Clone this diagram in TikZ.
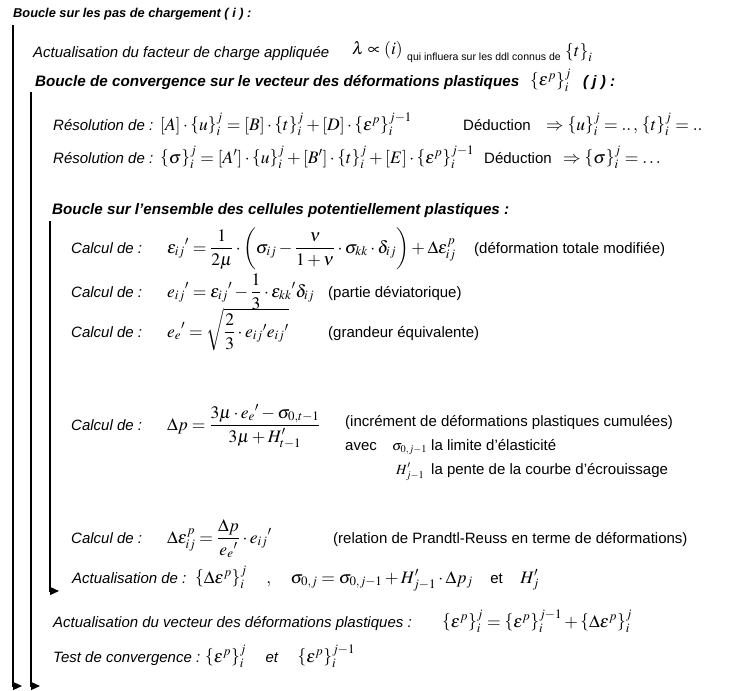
\documentclass[tikz,border=0pt]{standalone}
\usepackage{mathptmx}
\usepackage{fontspec}
\setmainfont{Liberation Sans}
\usetikzlibrary{arrows.meta}
\begin{document}
\begin{tikzpicture}[x=1pt,y=-1pt,
  ttl/.style={anchor=base west,inner sep=0pt,font=\fontsize{12.8}{15}\selectfont\bfseries\itshape},
  head/.style={anchor=base west,inner sep=0pt,font=\fontsize{15.2}{18}\selectfont\bfseries\itshape},
  lab/.style={anchor=base west,inner sep=0pt,font=\fontsize{15}{18}\selectfont\itshape},
  txt/.style={anchor=base west,inner sep=0pt,font=\fontsize{15}{18}\selectfont},
  smalltxt/.style={anchor=base west,inner sep=0pt,font=\fontsize{10.5}{12}\selectfont},
  mth/.style={anchor=base west,inner sep=0pt,font=\fontsize{17.5}{21}\selectfont},
  smallmth/.style={anchor=base west,inner sep=0pt,font=\fontsize{14}{17}\selectfont},
  loopline/.style={line width=1.2pt,-{Triangle[length=9pt,width=8pt]}}]
\useasboundingbox[fill=white] (0,0) rectangle (735,690);
% loop 1
\node[ttl] (h1) at (13,18) {Boucle sur les pas de chargement ( i ) :};
\node[lab] (act1) at (33,58) {Actualisation du facteur de charge appliquée};
\node[mth] (lam) at (352,55) {$\lambda\propto\left(i\right)$};
\node[smalltxt] (qui) at (407,61) {qui influera sur les ddl connus de};
\node[mth] (t1) at (565,57) {$\left\{t\right\}_i$};
% loop 2
\node[head] (h2) at (35,87) {Boucle de convergence sur le vecteur des déformations plastiques};
\node[mth] (ep1) at (530,86) {$\left\{\varepsilon^p\right\}_i^j$};
\node[head] (jj) at (583,87) {( j ) :};
\node[lab] (res1) at (53,130) {Résolution de :};
\node[mth] (f1) at (160,130) {$\left[A\right]\cdot\left\{u\right\}_i^j=\left[B\right]\cdot\left\{t\right\}_i^j+\left[D\right]\cdot\left\{\varepsilon^p\right\}_i^{j-1}$};
\node[txt] (d1) at (463,130) {Déduction};
\node[mth] (g1) at (546,130) {$\Rightarrow\left\{u\right\}_i^j=..\,,\,\left\{t\right\}_i^j=..$};
\node[lab] (res2) at (53,163) {Résolution de :};
\node[mth] (f2) at (160,163) {$\left\{\sigma\right\}_i^j=\left[A'\right]\cdot\left\{u\right\}_i^j+\left[B'\right]\cdot\left\{t\right\}_i^j+\left[E\right]\cdot\left\{\varepsilon^p\right\}_i^{j-1}$};
\node[txt] (d2) at (484,163) {Déduction};
\node[mth] (g2) at (563,163) {$\Rightarrow\left\{\sigma\right\}_i^j=\dots$};
% loop 3
\node[head] (h3) at (52,214) {Boucle sur l'ensemble des cellules potentiellement plastiques :};
\node[lab] (c1) at (71,253) {Calcul de :};
\node[mth] (e1) at (167,253) {$\displaystyle\varepsilon_{ij}{}'=\frac{1}{2\mu}\cdot\left(\sigma_{ij}-\frac{\nu}{1+\nu}\cdot\sigma_{kk}\cdot\delta_{ij}\right)+\Delta\varepsilon_{ij}^p$};
\node[txt] (k1) at (474,253) {(déformation totale modifiée)};
\node[lab] (c2) at (71,297) {Calcul de :};
\node[mth] (e2) at (167,297) {$\displaystyle e_{ij}{}'=\varepsilon_{ij}{}'-\frac{1}{3}\cdot\varepsilon_{kk}{}'\delta_{ij}$};
\node[txt] (k2) at (328,297) {(partie déviatorique)};
\node[lab] (c3) at (71,337) {Calcul de :};
\node[mth] (e3) at (167,337) {$\displaystyle e_e{}'=\sqrt{\frac{2}{3}\cdot e_{ij}{}'e_{ij}{}'}$};
\node[txt] (k3) at (328,337) {(grandeur équivalente)};
\node[lab] (c4) at (71,430) {Calcul de :};
\node[mth] (e4) at (167,430) {$\displaystyle \Delta p=\frac{3\mu\cdot e_e{}'-\sigma_{0,t-1}}{3\mu+H'_{t-1}}$};
\node[txt] (k4) at (345,426) {(incrément de déformations plastiques cumulées)};
\node[txt] (av) at (345,450) {avec};
\node[smallmth] (s0) at (392,450) {$\sigma_{0,j-1}$};
\node[txt] (lim) at (431,450) {la limite d'élasticité};
\node[smallmth] (hp) at (396,474) {$H'_{j-1}$};
\node[txt] (pen) at (431,474) {la pente de la courbe d'écrouissage};
\node[lab] (c5) at (71,543) {Calcul de :};
\node[mth] (e5) at (167,543) {$\displaystyle\Delta\varepsilon_{ij}^p=\frac{\Delta p}{e_e{}'}\cdot e_{ij}{}'$};
\node[txt] (k5) at (333,543) {(relation de Prandtl-Reuss en terme de déformations)};
\node[lab] (a1) at (72,583) {Actualisation de :};
\node[mth] (u1) at (195,583) {$\left\{\Delta\varepsilon^p\right\}_i^j\quad,\quad\sigma_{0,j}=\sigma_{0,j-1}+H'_{j-1}\cdot\Delta p_j\quad\mbox{\fontsize{15}{18}\selectfont et}\quad H'_j$};
% end loop 2 body
\node[lab] (a2) at (53,627) {Actualisation du vecteur des déformations plastiques :};
\node[mth] (u2) at (442,627) {$\left\{\varepsilon^p\right\}_i^j=\left\{\varepsilon^p\right\}_i^{j-1}+\left\{\Delta\varepsilon^p\right\}_i^j$};
\node[lab] (tc) at (53,662) {Test de convergence :};
\node[mth] (u3) at (205,662) {$\left\{\varepsilon^p\right\}_i^j\quad\mbox{\fontsize{15}{18}\selectfont\itshape et}\quad\left\{\varepsilon^p\right\}_i^{j-1}$};
% loop brackets
\coordinate (s1) at (13,25);  \coordinate (t1e) at (22,686);
\coordinate (s2) at (31,92);  \coordinate (t2e) at (40,686);
\coordinate (s3) at (50,221); \coordinate (t3e) at (59,591);
\draw[loopline] (s1) |- (t1e);
\draw[loopline] (s2) |- (t2e);
\draw[loopline] (s3) |- (t3e);
\end{tikzpicture}
\end{document}
